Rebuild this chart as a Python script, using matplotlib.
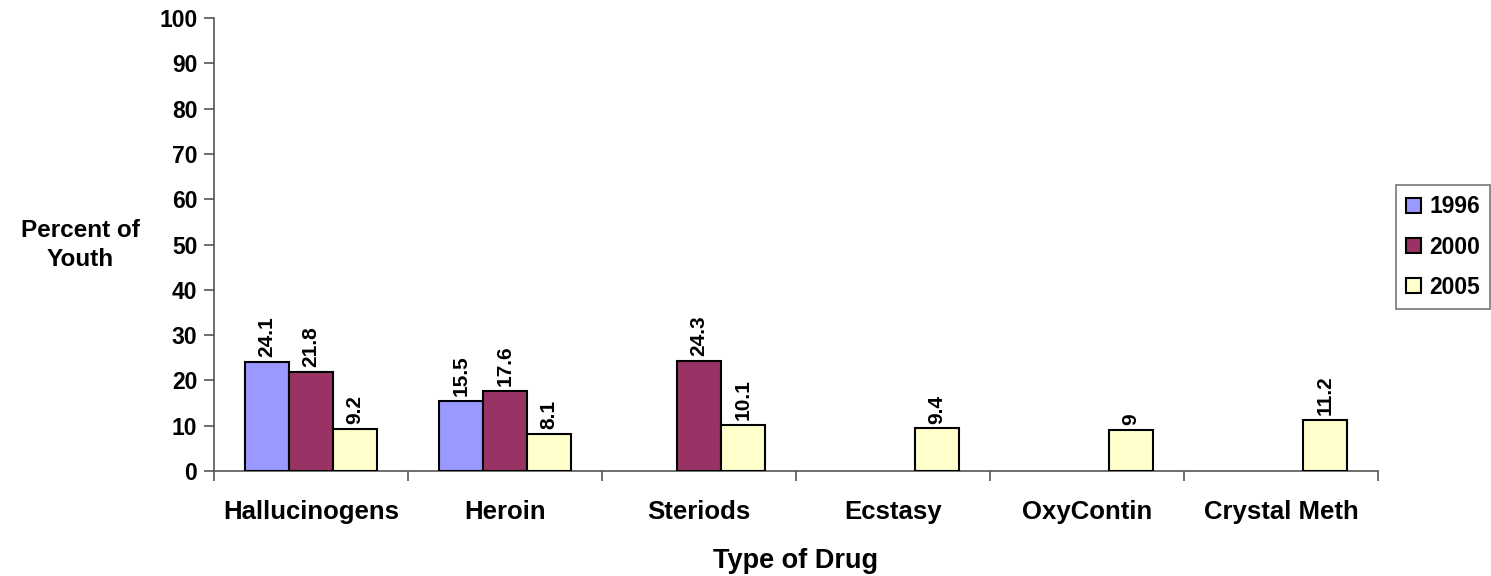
import numpy as np
import matplotlib
matplotlib.use("Agg")
import matplotlib.pyplot as plt
from matplotlib.ticker import FixedLocator

plt.rcParams['font.family'] = ['Liberation Sans', 'DejaVu Sans']
plt.rcParams['font.weight'] = 'bold'

categories = ["Hallucinogens", "Heroin", "Steriods", "Ecstasy", "OxyContin", "Crystal Meth"]
years = ["1996", "2000", "2005"]
v1996 = [24.1, 15.5, None, None, None, None]
v2000 = [21.8, 17.6, 24.3, None, None, None]
v2005 = [9.2, 8.1, 10.1, 9.4, 9, 11.2]
series = [v1996, v2000, v2005]
colors = ["#9999FF", "#993366", "#FFFFCC"]

fig = plt.figure(figsize=(14.91, 5.76), dpi=100)
ax = fig.add_axes([214/1491, 1-471/576, (1378-214)/1491, (471-18)/576])

x = np.arange(len(categories))
w = 0.227
for i, (vals, col, yr) in enumerate(zip(series, colors, years)):
    xs = x + (i - 1) * w
    h = [np.nan if v is None else v for v in vals]
    ax.bar(xs, h, width=w, color=col, edgecolor='black', linewidth=1.5, label=yr, zorder=3)
    for xx, v in zip(xs, vals):
        if v is None:
            continue
        txt = f"{v:g}"
        ax.annotate(txt, (xx, v), xytext=(0, 3.5), textcoords='offset points',
                    rotation=90, ha='center', va='bottom', fontsize=15, fontweight='bold')

ax.set_xlim(-0.5, len(categories) - 0.5)
ax.set_ylim(0, 100)
ax.set_yticks(np.arange(0, 101, 10))
ax.set_xticks(x)
ax.set_xticklabels(categories, fontsize=18.5, fontweight='bold')
ax.xaxis.set_minor_locator(FixedLocator(np.arange(-0.5, len(categories), 1.0)))
ax.tick_params(axis='x', which='major', length=0, pad=21)
ax.tick_params(axis='x', which='minor', length=7, width=1.2, color='#555555')
ax.tick_params(axis='y', length=7, width=1.2, color='#555555', labelsize=16.5, pad=5)
for lab in ax.get_yticklabels():
    lab.set_fontweight('bold')
for s in ['top', 'right']:
    ax.spines[s].set_visible(False)
for s in ['left', 'bottom']:
    ax.spines[s].set_color('#555555')
    ax.spines[s].set_linewidth(1.2)

ax.set_xlabel("Type of Drug", fontsize=19.5, fontweight='bold', labelpad=17)
fig.text(80/1491, 1-245/576, "Percent of\nYouth", ha='center', va='center',
         fontsize=17.5, fontweight='bold', linespacing=1.35)

leg = fig.legend(loc='center', bbox_to_anchor=(1443/1491, 1-247/576), frameon=True,
                 fontsize=16.5, handlelength=0.65, handleheight=0.65, handletextpad=0.35,
                 labelspacing=0.75, borderpad=0.45, borderaxespad=0, fancybox=False,
                 edgecolor='#555555')
leg.get_frame().set_linewidth(1.2)
for t in leg.get_texts():
    t.set_fontweight('bold')

fig.savefig("out.png", dpi=100)
